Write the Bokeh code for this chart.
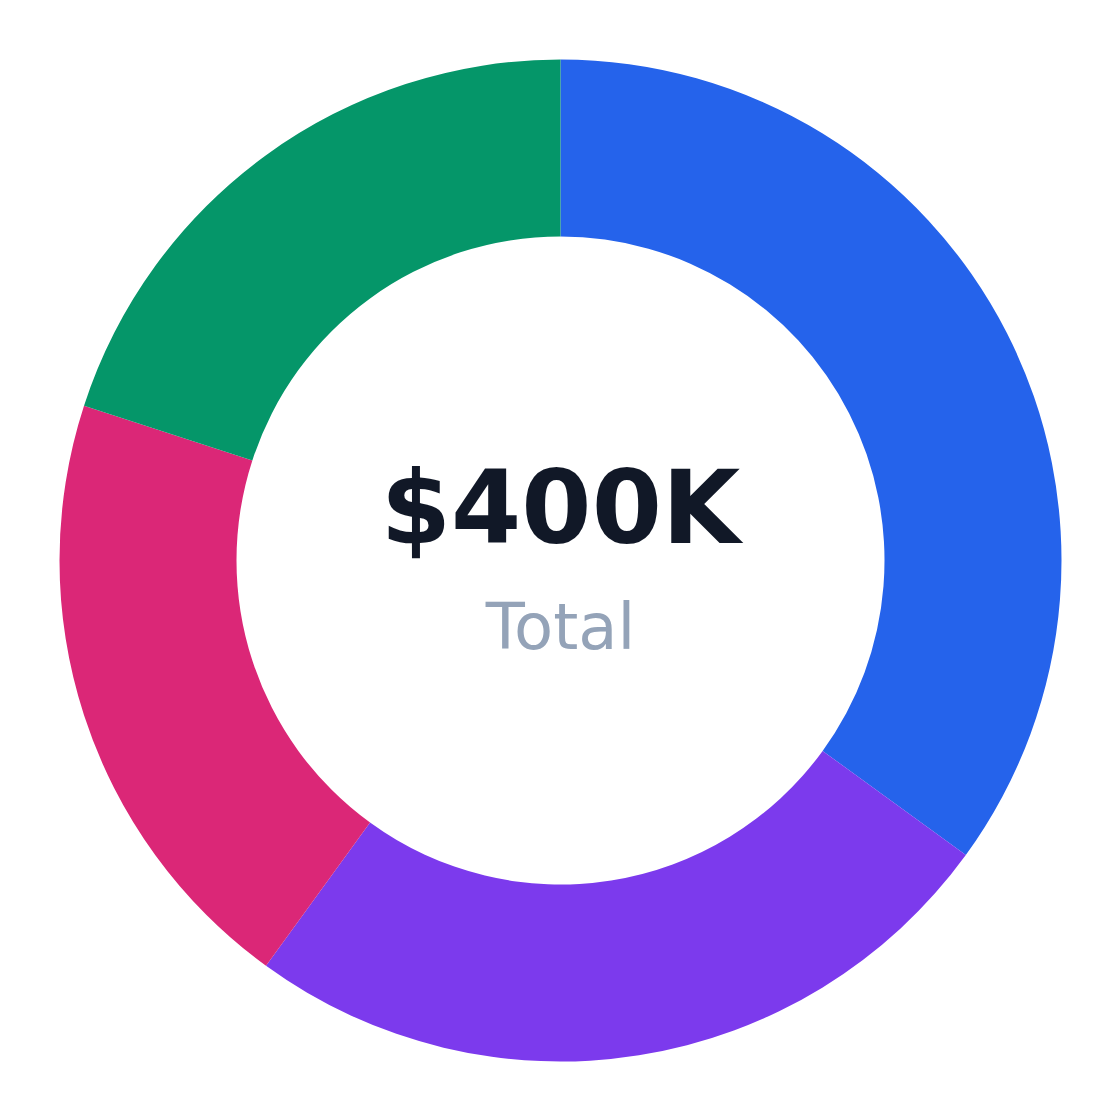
import math
from bokeh.plotting import figure
from bokeh.models import Range1d, ColumnDataSource, Label, PlainText
from bokeh.core.properties import value
from bokeh.embed import file_html
from bokeh.resources import INLINE

categories = ["A", "B", "C", "D"]
values = [140, 100, 80, 80]
colors = ["#2563eb", "#7c3aed", "#db2777", "#059669"]
total_label = "$400K"
sub_label = "Total"

total = sum(values)
starts, ends = [], []
angle = math.pi / 2
for v in values:
    a = 2 * math.pi * v / total
    starts.append(angle - a)
    ends.append(angle)
    angle -= a

src = ColumnDataSource(dict(cat=categories, start=starts, end=ends, color=colors))

W = 1104
p = figure(width=W, height=W, output_backend="svg", toolbar_location=None,
           x_range=Range1d(-560, W - 560), y_range=Range1d(560 - W, 560),
           min_border=0)
p.axis.visible = False
p.grid.visible = False
p.outline_line_color = None
p.background_fill_color = "white"
p.border_fill_color = "white"

p.annular_wedge(x=0, y=0, inner_radius=324, outer_radius=501,
                start_angle="start", end_angle="end", direction="anticlock",
                fill_color="color", line_color=None, source=src)

p.text(x=[0], y=[-66], text=[sub_label], text_align="center",
       text_baseline="alphabetic", text_font=value("DejaVu Sans"),
       text_font_size="64px", text_color="#94a3b8")
p.add_layout(Label(x=0, y=53, text=PlainText(text=total_label),
                   text_align="center", text_baseline="alphabetic",
                   text_font="DejaVu Sans", text_font_style="bold",
                   text_font_size="101px", text_color="#111827"))

open("out.html", "w").write(file_html(p, INLINE))
